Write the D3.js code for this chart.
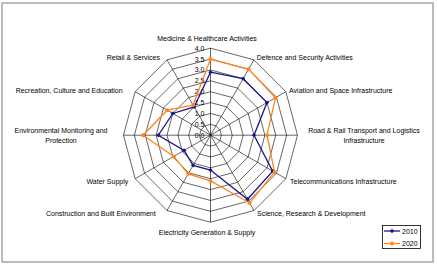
<!DOCTYPE html>
<html>
<head>
<meta charset="utf-8">
<script src="https://cdn.jsdelivr.net/npm/d3@7"></script>
<style>
  body { margin: 0; background: #fff; }
  text { font-family: "Liberation Sans", Arial, sans-serif; font-size: 7px; fill: #000; }
</style>
</head>
<body>
<div id="chart"></div>
<script>
const categories = [
    ['Medicine & Healthcare Activities'],
    ['Defence and Security Activities'],
    ['Aviation and Space Infrastructure'],
    ['Road & Rail Transport and Logistics', 'Infrastructure'],
    ['Telecommunications Infrastructure'],
    ['Science, Research & Development'],
    ['Electricity Generation & Supply'],
    ['Construction and Built Environment'],
    ['Water Supply'],
    ['Environmental Monitoring and', 'Protection'],
    ['Recreation, Culture and Education'],
    ['Retail & Services']
]
const values2010 = [2.9, 3.0, 3.0, 2.0, 3.3, 3.4, 1.6, 1.6, 1.4, 2.4, 2.0, 1.5]
const values2020 = [3.5, 3.5, 3.45, 2.6, 3.4, 3.6, 2.1, 2.05, 1.95, 3.1, 2.3, 1.6]
const tickLabels = ['0.0', '0.5', '1.0', '1.5', '2.0', '2.5', '3.0', '3.5', '4.0']
const seriesNames = ['2010', '2020']

const width = 437, height = 265
const cx = 210.5, cy = 135.2, radius = 87
const colors = ['#16168a', '#ff8424']

// label placement relative to the spoke tip: [anchor, dx, dy]
const labelLayout = [
    ['middle', -3.5, -9.5], ['start', 2.7, -2.2], ['start', 3.2, -1], ['middle', 66.5, 0],
    ['start', 4.2, 2.3], ['start', 3, 2.8], ['middle', -3.5, 10.1], ['end', -11.3, 2.8],
    ['end', -6.9, 2.3], ['middle', -62.5, 0], ['end', -12.5, -1], ['end', -7, -2.2]
]

const svg = d3.select('#chart').append('svg')
    .attr('width', width)
    .attr('height', height)

// outer frame
svg.append('rect').attr('x', 2).attr('y', 3).attr('width', 431).attr('height', 259)
    .attr('fill', 'none').attr('stroke', '#a6a6a6').attr('stroke-width', 1.5)

const rScale = d3.scaleLinear().domain([0, 4]).range([0, radius])
const angle = i => i * 2 * Math.PI / categories.length
const px = (i, v) => cx + rScale(v) * Math.sin(angle(i))
const py = (i, v) => cy - rScale(v) * Math.cos(angle(i))

const g = svg.append('g')

// grid rings
const ringVals = tickLabels.map(d => +d).filter(d => d > 0)
g.selectAll('.ring')
    .data(ringVals)
    .enter().append('polygon')
    .attr('class', 'ring')
    .attr('points', v => categories.map((c, i) => `${px(i, v)},${py(i, v)}`).join(' '))
    .attr('fill', 'none')
    .attr('stroke', '#000')
    .attr('stroke-width', 0.6)

// spokes
g.selectAll('.spoke')
    .data(categories)
    .enter().append('line')
    .attr('x1', cx).attr('y1', cy)
    .attr('x2', (d, i) => px(i, 4))
    .attr('y2', (d, i) => py(i, 4))
    .attr('stroke', '#000')
    .attr('stroke-width', 0.6)

// tick labels on the top axis
g.selectAll('.tick')
    .data(tickLabels)
    .enter().append('text')
    .attr('x', cx - 6)
    .attr('y', d => cy - rScale(+d) + 2.5)
    .attr('text-anchor', 'end')
    .text(d => d)

// category labels
categories.forEach((lines, i) => {
    const [anchor, dx, dy] = labelLayout[i]
    const x = px(i, 4) + dx
    const y = py(i, 4) + dy
    const t = g.append('text')
        .attr('text-anchor', anchor)
        .attr('x', x)
        .attr('y', y - (lines.length - 1) * 5.2 + 2.5)
    lines.forEach((l, k) => {
        t.append('tspan').attr('x', x).attr('dy', k === 0 ? 0 : 10.4).text(l)
    })
})

// series
const allSeries = [values2010, values2020]
const line = d3.line()
    .x(d => px(d.i, d.v))
    .y(d => py(d.i, d.v))
    .curve(d3.curveLinearClosed)

allSeries.forEach((vals, si) => {
    const pts = vals.map((v, i) => ({ i, v }))
    g.append('path')
        .attr('d', line(pts))
        .attr('fill', 'none')
        .attr('stroke', colors[si])
        .attr('stroke-width', 1.3)
    if (si === 0) {
        g.selectAll('.m0').data(pts).enter().append('path')
            .attr('d', d3.symbol(d3.symbolDiamond2, 12)())
            .attr('transform', d => `translate(${px(d.i, d.v)},${py(d.i, d.v)})`)
            .attr('fill', colors[si])
    } else {
        g.selectAll('.m1').data(pts).enter().append('circle')
            .attr('cx', d => px(d.i, d.v))
            .attr('cy', d => py(d.i, d.v))
            .attr('r', 2)
            .attr('fill', colors[si])
    }
})

// legend
const legend = svg.append('g')
legend.append('rect')
    .attr('x', 382.5).attr('y', 225.5).attr('width', 38).attr('height', 23)
    .attr('fill', '#fff').attr('stroke', '#000').attr('stroke-width', 0.8)
seriesNames.forEach((name, si) => {
    const ly = 231 + si * 12.5
    legend.append('line')
        .attr('x1', 384).attr('x2', 400).attr('y1', ly).attr('y2', ly)
        .attr('stroke', colors[si]).attr('stroke-width', 1.3)
    if (si === 0) {
        legend.append('path')
            .attr('d', d3.symbol(d3.symbolDiamond2, 12)())
            .attr('transform', `translate(392,${ly})`)
            .attr('fill', colors[si])
    } else {
        legend.append('circle').attr('cx', 392).attr('cy', ly).attr('r', 2).attr('fill', colors[si])
    }
    legend.append('text').attr('x', 402).attr('y', ly + 2.5).text(name)
})
</script>
</body>
</html>
